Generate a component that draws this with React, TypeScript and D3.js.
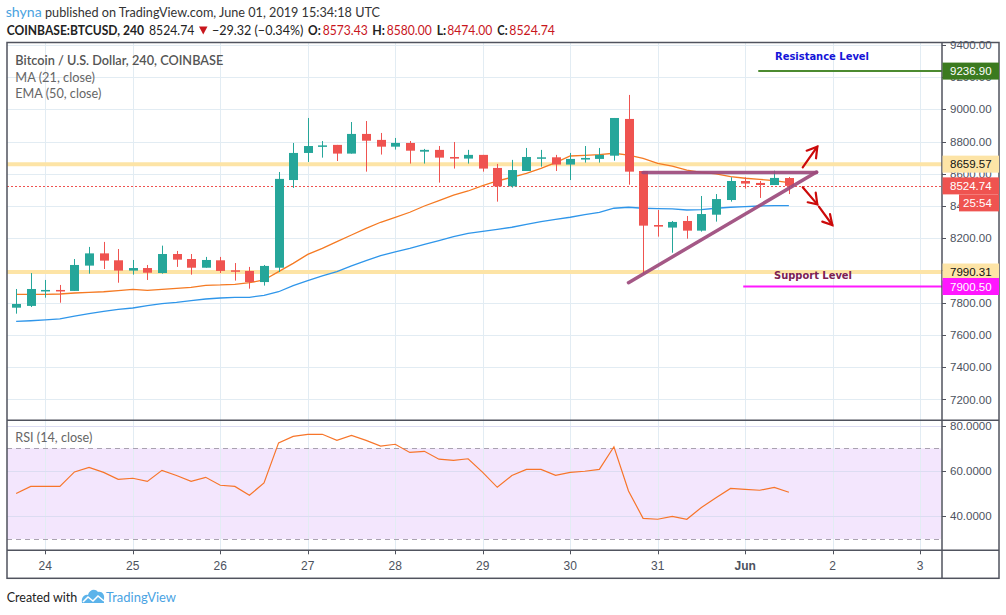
import React from 'react';
import * as d3 from 'd3';

// ---------- DATA ----------
const openP = [7769, 7780, 7875, 7879, 7873, 8030, 8106, 8063, 7999, 8015, 7984, 8102, 8071, 8017, 8063, 8001, 7997, 7928, 8017, 8561, 8729, 8768, 8779, 8725, 8847, 8810, 8768, 8791, 8737, 8748, 8704, 8694, 8717, 8636, 8522, 8617, 8696, 8702, 8657, 8688, 8692, 8712, 8940, 8617, 8282, 8266, 8307, 8247, 8346, 8437, 8555, 8543, 8530, 8573.43];
const highP = [7885, 7984, 7941, 7910, 8071, 8146, 8177, 8133, 8065, 8034, 8154, 8121, 8102, 8084, 8084, 8046, 8022, 8034, 8611, 8791, 8946, 8803, 8779, 8921, 8927, 8853, 8822, 8803, 8754, 8772, 8797, 8748, 8717, 8661, 8686, 8760, 8748, 8717, 8729, 8772, 8760, 8946, 9089, 8617, 8375, 8307, 8338, 8462, 8474, 8578, 8578, 8555, 8619, 8580];
const lowP = [7732, 7773, 7831, 7800, 7873, 7980, 8009, 7924, 7974, 7941, 7980, 8022, 7974, 8017, 7984, 7937, 7887, 7906, 7990, 8512, 8673, 8700, 8679, 8725, 8613, 8719, 8750, 8663, 8663, 8545, 8632, 8663, 8613, 8427, 8514, 8617, 8644, 8617, 8561, 8669, 8669, 8681, 8532, 7980, 8210, 8110, 8197, 8241, 8303, 8427, 8508, 8450, 8530, 8474];
const closeP = [7792, 7885, 7879, 7873, 8034, 8106, 8061, 7999, 8015, 7986, 8102, 8067, 8017, 8065, 7997, 7993, 7928, 8028, 8568, 8729, 8772, 8776, 8725, 8847, 8805, 8768, 8791, 8743, 8748, 8700, 8694, 8717, 8632, 8522, 8623, 8704, 8702, 8657, 8692, 8698, 8717, 8946, 8613, 8278, 8272, 8301, 8247, 8350, 8443, 8555, 8539, 8530, 8574, 8524.74];
const maValues = [7852, 7852, 7852, 7854, 7860, 7864, 7868, 7875, 7883, 7877, 7883, 7889, 7895, 7908, 7910, 7914, 7924, 7941, 7993, 8044, 8100, 8137, 8179, 8220, 8261, 8299, 8330, 8361, 8400, 8433, 8468, 8493, 8526, 8555, 8578, 8603, 8634, 8669, 8710, 8714, 8719, 8727, 8716, 8696, 8665, 8648, 8623, 8609, 8599, 8582, 8572, 8565, 8557, 8545];
const emaValues = [7684, 7688, 7693, 7699, 7717, 7732, 7746, 7759, 7767, 7782, 7794, 7802, 7813, 7823, 7829, 7833, 7833, 7846, 7868, 7906, 7937, 7966, 7993, 8028, 8061, 8092, 8115, 8137, 8162, 8185, 8210, 8230, 8243, 8255, 8268, 8286, 8303, 8317, 8330, 8346, 8361, 8386, 8392, 8386, 8384, 8382, 8375, 8377, 8386, 8392, 8396, 8400, 8402, 8402];
const rsiValues = [50.1, 53.2, 53.2, 53.2, 59.6, 61.6, 59.4, 56.3, 56.8, 55.4, 60.3, 58.0, 55.4, 57.2, 53.7, 53.2, 49.3, 54.7, 72.4, 75.3, 76.2, 76.2, 73.5, 75.7, 73.5, 71.0, 71.8, 68.2, 68.7, 65.2, 64.7, 65.4, 59.4, 52.8, 58.0, 60.7, 60.7, 58.1, 59.4, 59.9, 60.7, 70.7, 51.2, 39.1, 38.7, 40.0, 38.7, 43.9, 48.2, 52.3, 51.9, 51.5, 52.8, 50.6];

const priceTicks = [7200, 7400, 7600, 7800, 8000, 8200, 8400, 8600, 8800, 9000, 9200, 9400];
const rsiTicks = [40, 60, 80];
const rsiBand = [30, 70];
const dayTickIndex = [2, 8, 14, 20, 26, 32, 38, 44, 50, 56, 62];
const dayTickLabels = ['24', '25', '26', '27', '28', '29', '30', '31', 'Jun', '2', '3'];

const resistancePrice = 9236.9;
const supportPrice = 7900.5;
const upperZone = 8659.57;
const lowerZone = 7990.31;
const lastClose = 8524.74;
const countdown = '25:54';

// annotation drawings in (bar index, price)
const triangleTop: [number, number][] = [[43.0, 8607], [54.9, 8607]];
const triangleDiag: [number, number][] = [[42.0, 7924], [54.9, 8611]];
const arrowUp: [number, number][][] = [[[53.95, 8640], [54.95, 8768]], [[54.22, 8743], [54.95, 8768], [54.86, 8696]]];
const arrowDown1: [number, number][][] = [[[53.95, 8516], [54.95, 8410]], [[54.29, 8423], [54.95, 8410], [54.84, 8483]]];
const arrowDown2: [number, number][][] = [[[55.06, 8396], [55.98, 8282]], [[55.29, 8303], [55.98, 8282], [55.82, 8350]]];
const resistanceLineStart = 50.9;
const supportLineStart = 49.87;
const resistanceLabelPos: [number, number] = [52.05, 9326];
const supportLabelPos: [number, number] = [51.98, 7968];

// ---------- LAYOUT ----------
const W = 1006, H = 615;
const L = 7, R = 942, OR = 999;
const mainTop = 42.5, mainBottom = 420.3, rsiBottom = 550.3, bottom = 578.3;

const x = d3.scaleLinear().domain([0, 60]).range([16.14, 890.94]);
const y = d3.scaleLinear().domain([7200, 9400]).range([399.4, 44.8]);
const yR = d3.scaleLinear().domain([40, 80]).range([516.3, 425.7]);

const GREEN = '#26a69a';
const RED = '#ef5350';
const GRID = '#e2ecf3';
const FRAME = '#50535e';
const AXTXT = '#4c525e';
const FONT = 'Lato, "Open Sans", sans-serif';
const AXFONT = '"Liberation Sans", Arial, sans-serif';

export default function App() {
  const line = d3.line<number>().x((_, i) => x(i)).y((d) => y(d));
  const rsiLine = d3.line<number>().x((_, i) => x(i)).y((d) => yR(d));
  const seg = d3.line<[number, number]>().x((d) => x(d[0])).y((d) => y(d[1]));

  const badge = (price: number, bg: string, fg: string, label: string) => (
    <g key={label}>
      <rect x={R + 0.5} y={y(price) - 8.5} width={OR - R - 0.5} height={17} fill={bg} />
      <text x={950} y={y(price)} dy="0.36em" fill={fg} fontSize={11.5} fontFamily={AXFONT}>{label}</text>
    </g>
  );

  return (
    <svg width={W} height={H} style={{ position: 'absolute', left: 0, top: 0, background: '#fff' }}>
      <rect x={0} y={0} width={W} height={H} fill="#fff" />
      {/* header */}
      <text x={5.7} y={17} fontSize={14} fontFamily={FONT} fill="#4aa3df" textLength={36} lengthAdjust="spacingAndGlyphs">shyna</text>
      <text x={45} y={17} fontSize={14} fontFamily={FONT} fill="#333" textLength={335} lengthAdjust="spacingAndGlyphs">published on TradingView.com, June 01, 2019 15:34:18 UTC</text>
      <g fontFamily={FONT} fontSize={13.5}>
        <text x={6.7} y={34.5} fontWeight={700} fill="#222" textLength={137.3} lengthAdjust="spacingAndGlyphs">COINBASE:BTCUSD, 240</text>
        <text x={149} y={34.5} fill="#222" textLength={45.3} lengthAdjust="spacingAndGlyphs">8524.74</text>
        <path d="M199,26.5 L207.5,26.5 L203.25,34.5 Z" fill="#c8161d" />
        <text x={212} y={34.5} fill="#222" textLength={91.3} lengthAdjust="spacingAndGlyphs">−29.32 (−0.34%)</text>
        <text x={308} y={34.5} fontWeight={700} fill="#222" textLength={12.7} lengthAdjust="spacingAndGlyphs">O:</text>
        <text x={322.7} y={34.5} fill="#c8161d" textLength={45} lengthAdjust="spacingAndGlyphs">8573.43</text>
        <text x={372.3} y={34.5} fontWeight={700} fill="#222" textLength={12.7} lengthAdjust="spacingAndGlyphs">H:</text>
        <text x={386.7} y={34.5} fill="#c8161d" textLength={45} lengthAdjust="spacingAndGlyphs">8580.00</text>
        <text x={436.7} y={34.5} fontWeight={700} fill="#222" textLength={9.5} lengthAdjust="spacingAndGlyphs">L:</text>
        <text x={447.3} y={34.5} fill="#c8161d" textLength={45} lengthAdjust="spacingAndGlyphs">8474.00</text>
        <text x={497.3} y={34.5} fontWeight={700} fill="#222" textLength={10.3} lengthAdjust="spacingAndGlyphs">C:</text>
        <text x={509.3} y={34.5} fill="#c8161d" textLength={45.7} lengthAdjust="spacingAndGlyphs">8524.74</text>
      </g>

      <defs>
        <clipPath id="mainClip"><rect x={L} y={mainTop} width={R - L} height={mainBottom - mainTop} /></clipPath>
        <clipPath id="rsiClip"><rect x={L} y={mainBottom} width={R - L} height={rsiBottom - mainBottom} /></clipPath>
      </defs>

      {/* RSI background band */}
      <rect x={L} y={yR(rsiBand[1])} width={R - L - 1} height={yR(rsiBand[0]) - yR(rsiBand[1])} fill="#f3e6fd" />

      {/* grid */}
      <g>
        {dayTickIndex.map((d) => (
          <line key={'vg' + d} x1={Math.round(x(d)) + 0.5} x2={Math.round(x(d)) + 0.5} y1={mainTop} y2={rsiBottom} stroke={GRID} strokeWidth={1} />
        ))}
        {priceTicks.map((p) => (
          <line key={'hg' + p} x1={L} x2={R} y1={Math.round(y(p)) + 0.5} y2={Math.round(y(p)) + 0.5} stroke={GRID} />
        ))}
        {rsiTicks.map((r) => (
          <line key={'rg' + r} x1={L} x2={R} y1={Math.round(yR(r)) + 0.5} y2={Math.round(yR(r)) + 0.5} stroke="#dcdcf2" />
        ))}
      </g>

      {/* RSI dashed band lines */}
      {rsiBand.map((r) => (
        <line key={'rb' + r} x1={L} x2={R} y1={Math.round(yR(r)) + 0.5} y2={Math.round(yR(r)) + 0.5} stroke="#a9a2b0" strokeDasharray="5,4" />
      ))}

      {/* main pane content */}
      <g clipPath="url(#mainClip)">
        <line x1={L} x2={R} y1={y(upperZone)} y2={y(upperZone)} stroke="#fde4a6" strokeWidth={4} />
        <line x1={L} x2={R} y1={y(lowerZone)} y2={y(lowerZone)} stroke="#fde4a6" strokeWidth={4} />
        <line x1={L} x2={R} y1={Math.round(y(lastClose)) + 0.5} y2={Math.round(y(lastClose)) + 0.5} stroke={RED} strokeDasharray="2,2" />
        <line x1={x(resistanceLineStart)} x2={R} y1={y(resistancePrice)} y2={y(resistancePrice)} stroke="#4b8a30" strokeWidth={2} />
        <line x1={x(supportLineStart)} x2={R} y1={y(supportPrice)} y2={y(supportPrice)} stroke="#ff19ff" strokeWidth={2} />

        <path d={line(emaValues) || ''} fill="none" stroke="#2f96ea" strokeWidth={1.3} />
        <path d={line(maValues) || ''} fill="none" stroke="#f57a23" strokeWidth={1.3} />

        {openP.map((o, i) => {
          const c = closeP[i];
          const up = c >= o;
          const col = up ? GREEN : RED;
          const cx = Math.round(x(i)) + 0.5;
          const top = y(Math.max(o, c));
          const h = Math.max(1.5, Math.abs(y(o) - y(c)));
          return (
            <g key={'c' + i}>
              <line x1={cx} x2={cx} y1={y(highP[i])} y2={y(lowP[i])} stroke={col} strokeWidth={1} />
              <rect x={cx - 4.5} y={top} width={9} height={h} fill={col} />
            </g>
          );
        })}

        <path d={seg(triangleTop) || ''} stroke="#9c4a7c" strokeWidth={3.5} fill="none" strokeLinecap="round" opacity={0.92} />
        <path d={seg(triangleDiag) || ''} stroke="#9c4a7c" strokeWidth={3.5} fill="none" strokeLinecap="round" opacity={0.92} />
        {[...arrowUp, ...arrowDown1, ...arrowDown2].map((pts, k) => (
          <path key={'ar' + k} d={seg(pts) || ''} stroke="#cc0a0a" strokeWidth={2.2} fill="none" strokeLinejoin="miter" strokeLinecap="round" />
        ))}

        <text x={x(resistanceLabelPos[0])} y={y(resistanceLabelPos[1])} dy="0.35em" fontFamily='"DejaVu Sans", Verdana, sans-serif' fontWeight={700} fontSize={10.5} fill="#1414d8" textLength={94} lengthAdjust="spacingAndGlyphs">Resistance Level</text>
        <text x={x(supportLabelPos[0])} y={y(supportLabelPos[1])} dy="0.35em" fontFamily='"DejaVu Sans", Verdana, sans-serif' fontWeight={700} fontSize={10.5} fill="#7c2152" textLength={78} lengthAdjust="spacingAndGlyphs">Support Level</text>
      </g>

      {/* legend */}
      <g fontFamily={FONT}>
        <text x={15.3} y={64.5} fontSize={13} fontWeight={600} fill="#555" textLength={208} lengthAdjust="spacingAndGlyphs">Bitcoin / U.S. Dollar, 240, COINBASE</text>
        <text x={15.3} y={81.5} fontSize={13} fill="#666" textLength={79.5} lengthAdjust="spacingAndGlyphs">MA (21, close)</text>
        <text x={15.3} y={98.3} fontSize={13} fill="#666" textLength={86} lengthAdjust="spacingAndGlyphs">EMA (50, close)</text>
        <text x={15.3} y={441.7} fontSize={13} fill="#666" textLength={77} lengthAdjust="spacingAndGlyphs">RSI (14, close)</text>
      </g>

      {/* RSI line */}
      <g clipPath="url(#rsiClip)">
        <path d={rsiLine(rsiValues) || ''} fill="none" stroke="#f7752a" strokeWidth={1.2} />
      </g>

      {/* frame */}
      <g stroke={FRAME} strokeWidth={1.5} fill="none">
        <rect x={L} y={mainTop} width={OR - L} height={bottom - mainTop} />
        <line x1={L} x2={OR} y1={mainBottom} y2={mainBottom} />
        <line x1={L} x2={OR} y1={rsiBottom} y2={rsiBottom} />
        <line x1={R} x2={R} y1={mainTop} y2={bottom} />
      </g>

      {/* price axis */}
      <g fontFamily={AXFONT} fontSize={11.5} fill={AXTXT}>
        {priceTicks.map((p) => (
          <g key={'pt' + p}>
            <line x1={R} x2={R + 4} y1={Math.round(y(p)) + 0.5} y2={Math.round(y(p)) + 0.5} stroke={FRAME} />
            <text x={950} y={y(p)} dy="0.36em">{d3.format('.2f')(p)}</text>
          </g>
        ))}
        {rsiTicks.map((r) => (
          <g key={'rt' + r}>
            <line x1={R} x2={R + 4} y1={Math.round(yR(r)) + 0.5} y2={Math.round(yR(r)) + 0.5} stroke={FRAME} />
            <text x={950} y={yR(r)} dy="0.36em">{d3.format('.4f')(r)}</text>
          </g>
        ))}
      </g>

      {/* price badges */}
      {badge(resistancePrice, '#3b7a1f', '#fff', d3.format('.2f')(resistancePrice))}
      {badge(upperZone, '#fde4a6', '#111', d3.format('.2f')(upperZone))}
      {badge(lastClose, RED, '#fff', d3.format('.2f')(lastClose))}
      <rect x={959} y={y(lastClose) + 8.5} width={OR - 959} height={17} fill={RED} />
      <text x={963} y={y(lastClose) + 17} dy="0.36em" fill="#fff" fontSize={11.5} fontFamily={AXFONT}>{countdown}</text>
      {badge(lowerZone, '#fde4a6', '#111', d3.format('.2f')(lowerZone))}
      {badge(supportPrice, '#ff16ff', '#fff', d3.format('.2f')(supportPrice))}

      {/* time axis */}
      <g fontFamily={AXFONT} fontSize={12} fill={AXTXT} textAnchor="middle">
        {dayTickIndex.map((d, k) => (
          <g key={'tt' + d}>
            <line x1={Math.round(x(d)) + 0.5} x2={Math.round(x(d)) + 0.5} y1={rsiBottom} y2={rsiBottom + 4} stroke={FRAME} />
            <text x={x(d)} y={570} fontWeight={dayTickLabels[k] === 'Jun' ? 700 : 400}>{dayTickLabels[k]}</text>
          </g>
        ))}
      </g>

      {/* footer */}
      <text x={6.7} y={602} fontSize={14} fontFamily={FONT} fill="#222" textLength={70.6} lengthAdjust="spacingAndGlyphs">Created with</text>
      <g>
        <path d="M82,603 C81,598 84,594 88,595 C89,590 95,588 98,592 C102,591 105,595 104,599 L104,603 Z" fill="#5cb3ea" />
        <path d="M83,602 L88,597 L93,601 L98,596 L104,601" stroke="#fff" strokeWidth={1.6} fill="none" />
      </g>
      <text x={106} y={602} fontSize={14} fontFamily={FONT} fill="#4aa3e3" textLength={70} lengthAdjust="spacingAndGlyphs">TradingView</text>
    </svg>
  );
}
